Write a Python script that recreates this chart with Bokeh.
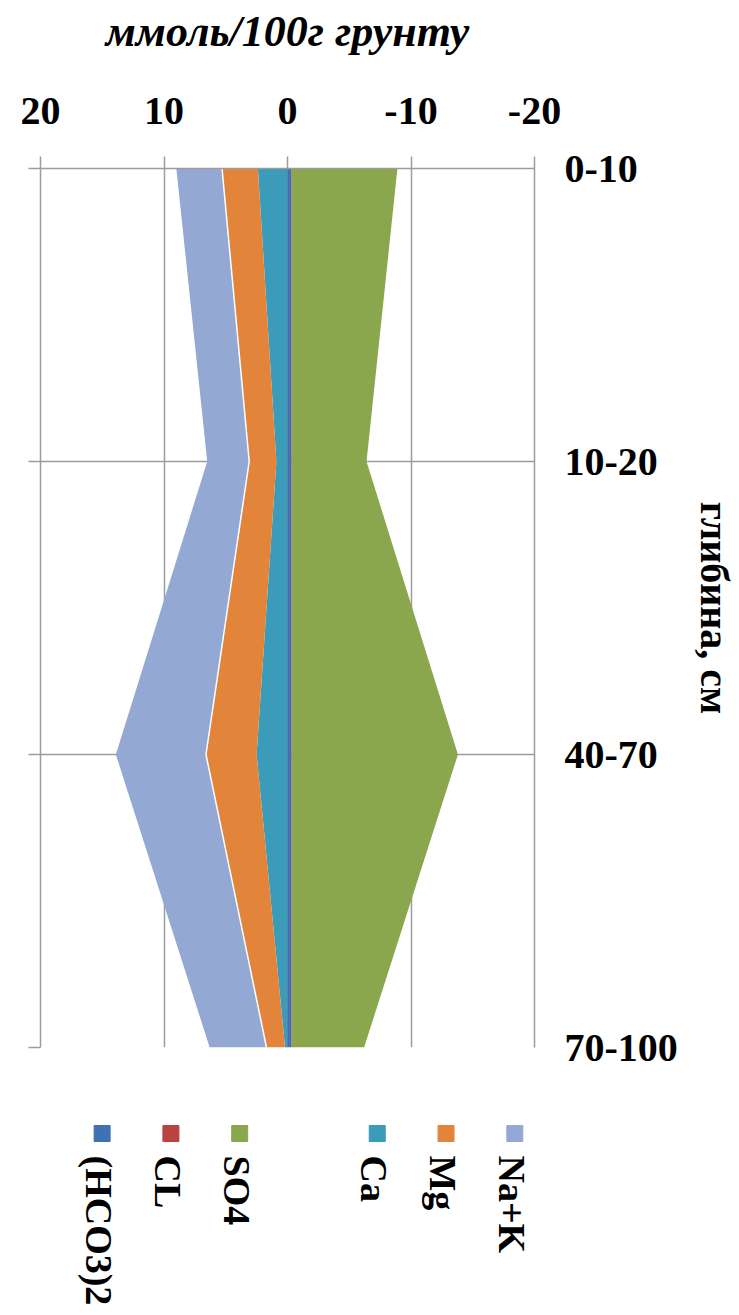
import math
from bokeh.plotting import figure
from bokeh.models import ColumnDataSource, Range1d, LinearAxis, FixedTicker
from bokeh.layouts import column
from bokeh.embed import file_html
from bokeh.resources import INLINE
from bokeh.core.properties import value
from bokeh.transform import stack

# ---------------- data ----------------
depth_labels = ["0-10", "10-20", "40-70", "70-100"]
ca = [2.4, 0.9, 2.5, 0.2]
mg = [2.9, 2.2, 4.1, 1.5]
na_k = [3.7, 3.4, 7.3, 4.6]
hco3 = [-0.3, -0.3, -0.3, -0.3]
cl = [-0.05, -0.05, -0.05, -0.05]
so4 = [-8.55, -6.05, -13.45, -5.85]

x_ticks = [20, 10, 0, -10, -20]
x_tick_labels = ["20", "10", "0", "-10", "-20"]

legend_labels = ["(HCO3)2", "CL", "SO4", "Ca", "Mg", "Na+K"]

# ---------------- styles ----------------
C_HCO3 = "#4071B5"
C_CL = "#B9433F"
C_SO4 = "#8AA74E"
C_CA = "#3A9CB8"
C_MG = "#E3843B"
C_NAK = "#93A9D4"
GRID = "#9c9c9c"
SERIF = "Liberation Serif"

legend_colors = [C_HCO3, C_CL, C_SO4, C_CA, C_MG, C_NAK]
legend_slots = [0, 1, 2, 4, 5, 6]

pos = list(range(len(depth_labels)))
src = ColumnDataSource(dict(y=pos, ca=ca, mg=mg, nak=na_k, hco3=hco3, cl=cl, so4=so4))

p = figure(width=739, height=1093,
           x_range=Range1d(20, -20), y_range=Range1d(len(depth_labels) - 1, 0),
           x_axis_location="above", y_axis_location="right",
           output_backend="svg", toolbar_location=None,
           min_border_left=40, min_border_right=202, min_border_top=168, min_border_bottom=46)
p.outline_line_color = None
p.background_fill_color = "white"
p.border_fill_color = "white"

# top axis
xa = p.xaxis[0]
xa.ticker = FixedTicker(ticks=x_ticks)
xa.major_label_overrides = {t: l for t, l in zip(x_ticks, x_tick_labels)}
xa.major_tick_out = 12
xa.major_tick_in = 0
xa.minor_tick_line_color = None
xa.major_tick_line_color = GRID
xa.major_tick_line_width = 1.5
xa.axis_line_color = GRID
xa.axis_line_width = 1.5
xa.major_label_text_font = SERIF
xa.major_label_text_font_style = "bold"
xa.major_label_text_font_size = "40px"
xa.major_label_text_color = "black"
xa.major_label_standoff = 33
xa.axis_label = "ммоль/100г грунту"
xa.axis_label_text_font = SERIF
xa.axis_label_text_font_style = "bold italic"
xa.axis_label_text_font_size = "44px"
xa.axis_label_text_color = "black"
xa.axis_label_standoff = 39

# right axis (depth categories)
ya = p.yaxis[0]
ya.ticker = FixedTicker(ticks=pos)
ya.major_label_overrides = {i: l for i, l in zip(pos, depth_labels)}
ya.major_tick_out = 0
ya.major_tick_in = 0
ya.minor_tick_line_color = None
ya.axis_line_color = GRID
ya.axis_line_width = 1.5
ya.major_label_text_font = SERIF
ya.major_label_text_font_style = "bold"
ya.major_label_text_font_size = "40px"
ya.major_label_text_color = "black"
ya.major_label_standoff = 30
ya.axis_label = "глибина, см"
ya.axis_label_text_font = SERIF
ya.axis_label_text_font_style = "bold"
ya.axis_label_text_font_size = "40px"
ya.axis_label_text_color = "black"
ya.axis_label_standoff = 11

# left axis: only outward tick marks at the categories
la = LinearAxis(ticker=FixedTicker(ticks=pos), major_label_text_color=None,
                major_tick_out=12, major_tick_in=0, minor_tick_line_color=None,
                major_tick_line_color=GRID, major_tick_line_width=1.5,
                axis_line_color=GRID, axis_line_width=1.5, major_label_standoff=0)
p.add_layout(la, "left")

for g in p.grid:
    g.grid_line_color = GRID
    g.grid_line_width = 1.5

# stacked areas: cations to the left (positive), anions to the right (negative)
p.harea_stack(["ca", "mg", "nak"], y="y", source=src, color=[C_CA, C_MG, C_NAK])
p.harea_stack(["hco3", "cl", "so4"], y="y", source=src, color=[C_HCO3, C_CL, C_SO4])
p.line(x=stack("ca", "mg"), y="y", source=src, line_color="white", line_width=1.5)

# ---------------- legend (separate strip below, frame aligned with the chart) ----------------
lsrc = ColumnDataSource(dict(slot=legend_slots, label=legend_labels, color=legend_colors))
lg = figure(width=739, height=222, x_range=Range1d(-0.896, 6.286), y_range=Range1d(222, 0),
            output_backend="svg", toolbar_location=None,
            min_border_left=40, min_border_right=202, min_border_top=0, min_border_bottom=0,
            x_axis_location=None, y_axis_location=None)
lg.outline_line_color = None
lg.grid.visible = False
lg.scatter(x="slot", y=40, marker="square", size=16, color="color", source=lsrc)
lg.text(x="slot", y=62, text="label", source=lsrc, angle=-math.pi / 2,
        text_align="left", text_baseline="middle", x_offset=-3,
        text_font=value(SERIF), text_font_style="bold",
        text_font_size="38px", text_color="black")

layout = column(p, lg, spacing=0)
open("out.html", "w").write(file_html(layout, INLINE))
